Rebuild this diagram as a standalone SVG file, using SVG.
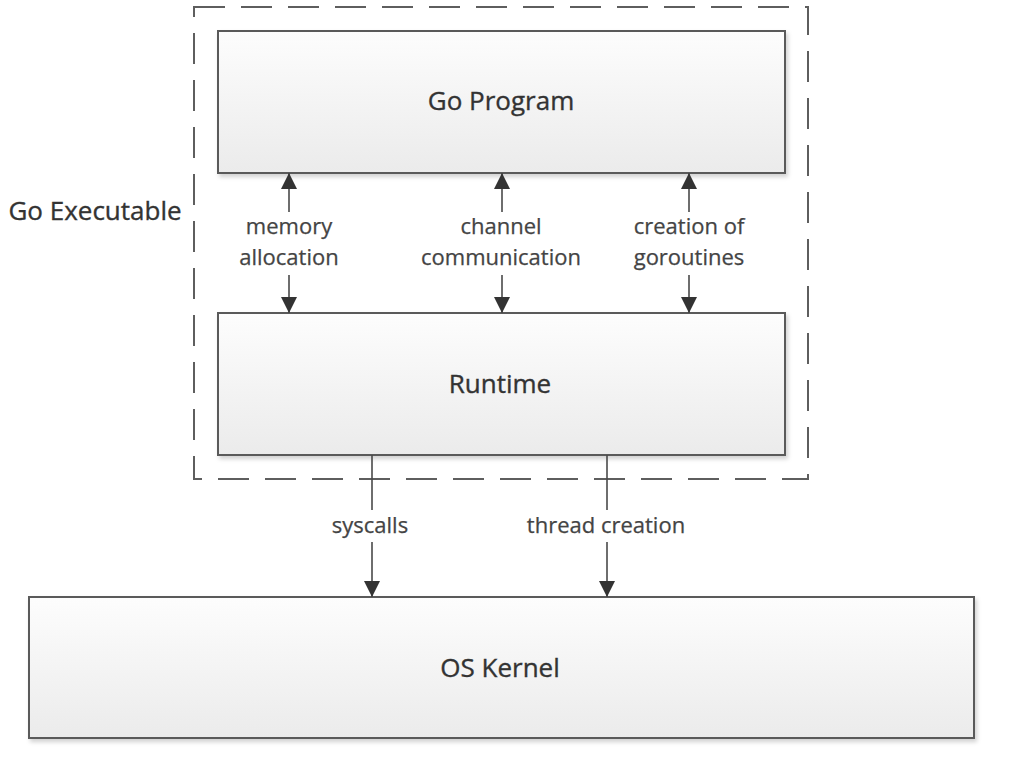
<svg xmlns="http://www.w3.org/2000/svg" width="1012" height="758" viewBox="0 0 1012 758">
  <style>
    .box { stroke: #5a5a5a; stroke-width: 2; fill: url(#boxfill); filter: url(#shadow); }
    .title { font-family: "Open Sans", "Liberation Sans", sans-serif; font-size: 26px; fill: #333333; stroke: #333333; stroke-width: 0.35; text-anchor: middle; }
    .lbl { font-family: "Open Sans", "Liberation Sans", sans-serif; font-size: 22px; fill: #444444; stroke: #444444; stroke-width: 0.25; text-anchor: middle; }
    .conn { stroke: #4a4a4a; stroke-width: 1.6; fill: none; }
    .frame { stroke: #5e5e5e; stroke-width: 2; fill: none; stroke-dasharray: 31 16; }
  </style>
  <defs>
    <linearGradient id="boxfill" x1="0" y1="0" x2="0" y2="1">
      <stop offset="0" stop-color="#fdfdfd"/>
      <stop offset="1" stop-color="#ebebeb"/>
    </linearGradient>
    <filter id="shadow" x="-5%" y="-5%" width="110%" height="115%">
      <feDropShadow dx="2" dy="3" stdDeviation="2" flood-color="#000000" flood-opacity="0.18"/>
    </filter>
    <marker id="arrow" markerUnits="userSpaceOnUse" markerWidth="17" markerHeight="16" refX="16" refY="8" orient="auto">
      <path d="M0,0 L16,8 L0,16 z" fill="#333333"/>
    </marker>
  </defs>
  <rect width="1012" height="758" fill="#ffffff"/>

  <g id="go-executable">
    <rect class="frame" x="194" y="7" width="614" height="472"/>
    <text class="title" x="95" y="220">Go Executable</text>
  </g>

  <g id="go-program">
    <rect class="box" x="218" y="31" width="567" height="142"/>
    <text class="title" x="501" y="110">Go Program</text>
  </g>

  <g id="runtime">
    <rect class="box" x="218" y="313" width="567" height="142"/>
    <text class="title" x="500" y="393">Runtime</text>
  </g>

  <g id="os-kernel">
    <rect class="box" x="29" y="597" width="945" height="141"/>
    <text class="title" x="500" y="677">OS Kernel</text>
  </g>

  <g id="connectors">
    <line class="conn" x1="289" y1="212" x2="289" y2="173" marker-end="url(#arrow)"/>
    <line class="conn" x1="289" y1="275" x2="289" y2="313" marker-end="url(#arrow)"/>
    <line class="conn" x1="502" y1="212" x2="502" y2="173" marker-end="url(#arrow)"/>
    <line class="conn" x1="502" y1="275" x2="502" y2="313" marker-end="url(#arrow)"/>
    <line class="conn" x1="689" y1="212" x2="689" y2="173" marker-end="url(#arrow)"/>
    <line class="conn" x1="689" y1="275" x2="689" y2="313" marker-end="url(#arrow)"/>
    <line class="conn" x1="372" y1="455" x2="372" y2="510"/>
    <line class="conn" x1="372" y1="542" x2="372" y2="597" marker-end="url(#arrow)"/>
    <line class="conn" x1="607" y1="455" x2="607" y2="510"/>
    <line class="conn" x1="607" y1="542" x2="607" y2="597" marker-end="url(#arrow)"/>
    <text class="lbl" x="289" y="234">memory</text>
    <text class="lbl" x="289" y="265">allocation</text>
    <text class="lbl" x="501" y="234">channel</text>
    <text class="lbl" x="501" y="265">communication</text>
    <text class="lbl" x="689" y="234">creation of</text>
    <text class="lbl" x="689" y="265">goroutines</text>
    <text class="lbl" x="370" y="533">syscalls</text>
    <text class="lbl" x="606" y="533">thread creation</text>
  </g>
</svg>
